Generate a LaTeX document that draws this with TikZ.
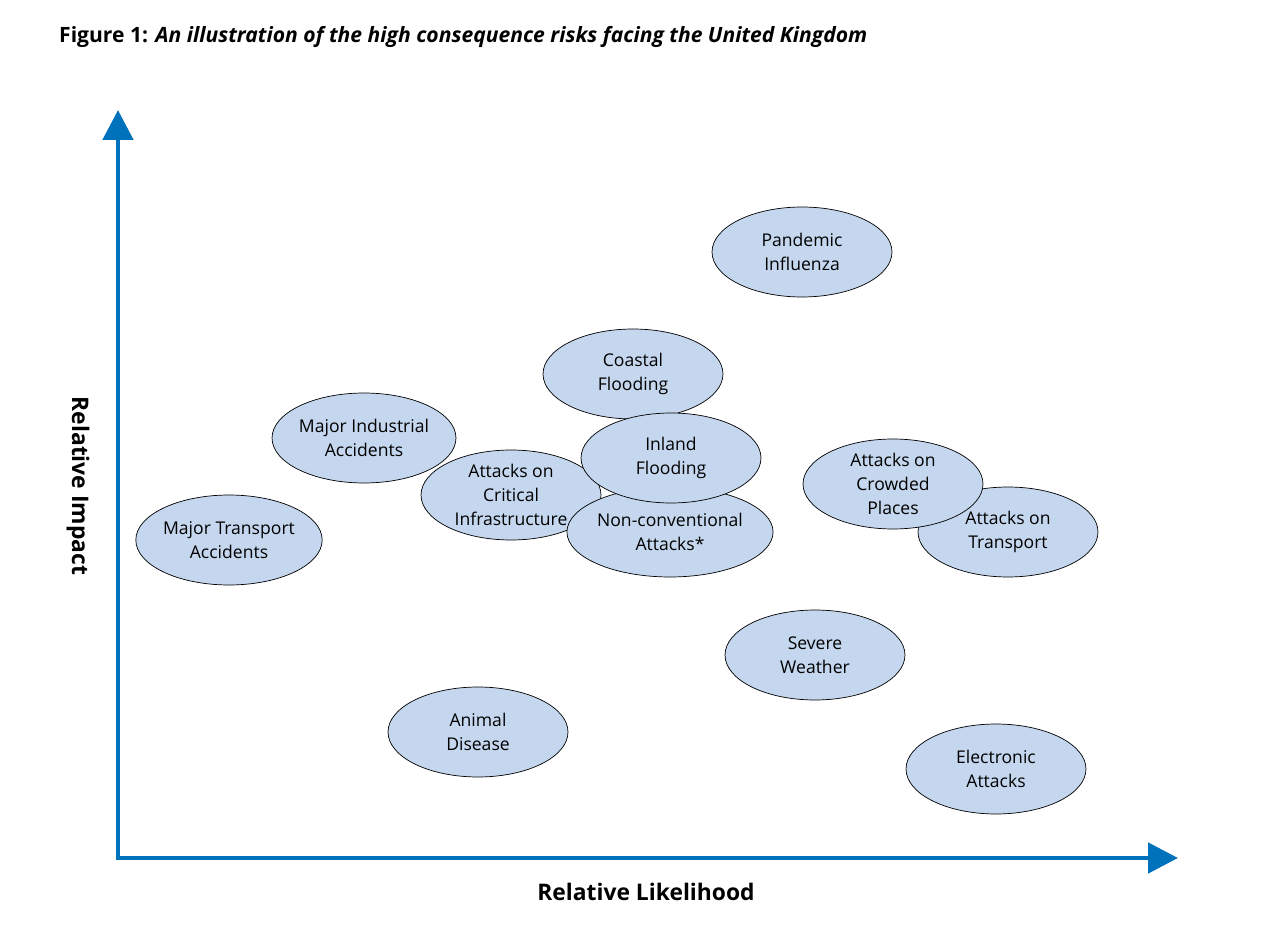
\documentclass[tikz,border=0pt]{standalone}
\usepackage{fontspec}
\setmainfont{Open Sans}
\usetikzlibrary{shapes.geometric,arrows.meta}
\definecolor{axisBlue}{RGB}{0,114,188}
\definecolor{riskFill}{RGB}{197,215,238}
\begin{document}
\begin{tikzpicture}[x=0.02cm,y=-0.02cm,
    risk/.style={draw, ellipse, fill=riskFill, minimum width=3.6cm, minimum height=1.8cm, inner sep=0pt, align=center, font=\fontsize{10}{13.5}\selectfont},
    axis/.style={axisBlue, line width=2.8pt, -{Triangle[length=0.6cm,width=0.6cm]}}]
    \useasboundingbox (0,0) rectangle (1278,942);
    % title
    \node[anchor=west, font=\fontsize{12}{14}\selectfont\bfseries] (title) at (53,37) {Figure 1: \textit{An illustration of the high consequence risks facing the United Kingdom}};
    % axes
    \coordinate (origin) at (118,858);
    \coordinate (ytop) at (118,110);
    \coordinate (xend) at (1178,858);
    \draw[axis] (origin) -- (ytop);
    \draw[axis] ([xshift=-1.4pt]origin) -- (xend);
    \node[font=\fontsize{13}{15}\selectfont\bfseries, rotate=-90] (ylabel) at (78,486) {Relative Impact};
    \node[font=\fontsize{13}{15}\selectfont\bfseries] (xlabel) at (646,892) {Relative Likelihood};
    % risks
    \node[risk] (pandemic) at (802,252) {Pandemic\\Influenza};
    \node[risk] (coastal) at (633,374) {Coastal\\Flooding};
    \node[risk] (industrial) at (364,438) {Major Industrial\\Accidents};
    \node[risk] (transportacc) at (229,540) {Major Transport\\Accidents};
    \node[risk] (critical) at (511,495) {Attacks on\\Critical\\Infrastructure};
    \node[risk] (nonconv) at (670,532) {Non-conventional\\Attacks*};
    \node[risk] (inland) at (671,458) {Inland\\Flooding};
    \node[risk] (transport) at (1008,532) {Attacks on\\Transport};
    \node[risk] (crowded) at (893,484) {Attacks on\\Crowded\\Places};
    \node[risk] (weather) at (815,655) {Severe\\Weather};
    \node[risk] (animal) at (478,732) {Animal\\Disease};
    \node[risk] (electronic) at (996,769) {Electronic\\Attacks};
\end{tikzpicture}
\end{document}
